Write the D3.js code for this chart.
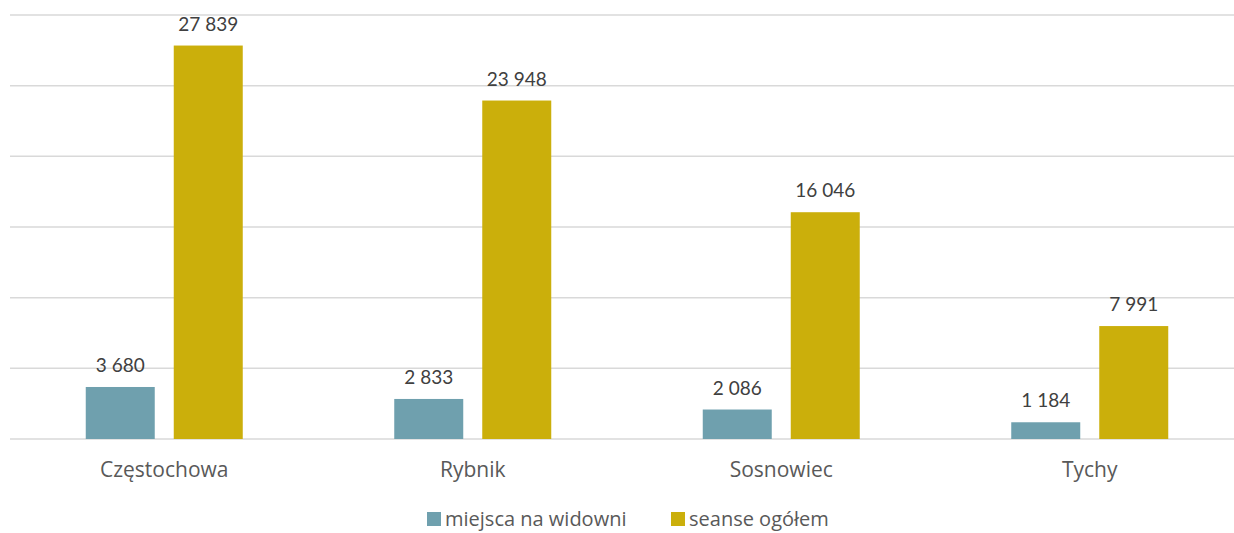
<!DOCTYPE html>
<html>
<head>
<meta charset="utf-8">
<script src="https://cdn.jsdelivr.net/npm/d3@7"></script>
<style>
  body { margin: 0; background: #fff; }
  .value { font-family: Lato, "Open Sans", sans-serif; font-size: 19px; fill: #404040; }
  .cat { font-family: "Open Sans", sans-serif; font-size: 21px; fill: #595959; }
  .legend { font-family: "Open Sans", sans-serif; font-size: 20px; fill: #595959; }
</style>
</head>
<body>
<div id="chart"></div>
<script>
var cities = ['Częstochowa', 'Rybnik', 'Sosnowiec', 'Tychy'];
var seriesNames = ['miejsca na widowni', 'seanse ogółem'];
var seats = [3680, 2833, 2086, 1184];
var shows = [27839, 23948, 16046, 7991];
var yTicks = [0, 5000, 10000, 15000, 20000, 25000, 30000];

var width = 1234;
var height = 533;
var colors = ['#6fa0ae', '#cbaf0b'];

var svg = d3.select('#chart').append('svg')
  .attr('width', width)
  .attr('height', height);

var xScale = d3.scaleBand()
  .domain(cities)
  .range([10, 1244])
  .paddingInner(0)
  .paddingOuter(0);

var inner = d3.scaleBand()
  .domain(seriesNames)
  .range([75.75, xScale.bandwidth() - 75.75])
  .paddingInner(0.216);

var yScale = d3.scaleLinear()
  .domain([0, 30000])
  .range([439, 15]);

// gridlines
svg.append('g')
  .selectAll('line')
  .data(yTicks)
  .enter()
  .append('line')
  .attr('x1', 10)
  .attr('x2', width)
  .attr('y1', function(d) { return yScale(d); })
  .attr('y2', function(d) { return yScale(d); })
  .style('stroke', '#d9d9d9')
  .style('stroke-width', 1.5);

var data = cities.map(function(c, i) {
  return { city: c, values: [seats[i], shows[i]] };
});

var groups = svg.selectAll('.group')
  .data(data)
  .enter()
  .append('g')
  .attr('transform', function(d) { return 'translate(' + xScale(d.city) + ',0)'; });

groups.selectAll('rect')
  .data(function(d) {
    return d.values.map(function(v, j) { return { name: seriesNames[j], value: v, idx: j }; });
  })
  .enter()
  .append('rect')
  .attr('x', function(d) { return inner(d.name); })
  .attr('y', function(d) { return yScale(d.value); })
  .attr('width', inner.bandwidth())
  .attr('height', function(d) { return yScale(0) - yScale(d.value); })
  .style('fill', function(d) { return colors[d.idx]; });

var fmt = function(v) { return d3.format(',')(v).replace(/,/g, ' '); };

groups.selectAll('.value')
  .data(function(d) {
    return d.values.map(function(v, j) { return { name: seriesNames[j], value: v }; });
  })
  .enter()
  .append('text')
  .attr('class', 'value')
  .attr('text-anchor', 'middle')
  .attr('x', function(d) { return inner(d.name) + inner.bandwidth() / 2; })
  .attr('y', function(d) { return yScale(d.value) - 15; })
  .text(function(d) { return fmt(d.value); });

// category axis labels
svg.append('g')
  .selectAll('text')
  .data(cities)
  .enter()
  .append('text')
  .attr('class', 'cat')
  .attr('text-anchor', 'middle')
  .attr('x', function(d) { return xScale(d) + xScale.bandwidth() / 2; })
  .attr('y', 477)
  .text(function(d) { return d; });

// legend
var legendX = [427, 671];
var legend = svg.append('g')
  .selectAll('g')
  .data(seriesNames)
  .enter()
  .append('g')
  .attr('transform', function(d, i) { return 'translate(' + legendX[i] + ',512)'; });

legend.append('rect')
  .attr('width', 14)
  .attr('height', 14)
  .style('fill', function(d, i) { return colors[i]; });

legend.append('text')
  .attr('class', 'legend')
  .attr('x', 18)
  .attr('y', 14)
  .text(function(d) { return d; });
</script>
</body>
</html>
